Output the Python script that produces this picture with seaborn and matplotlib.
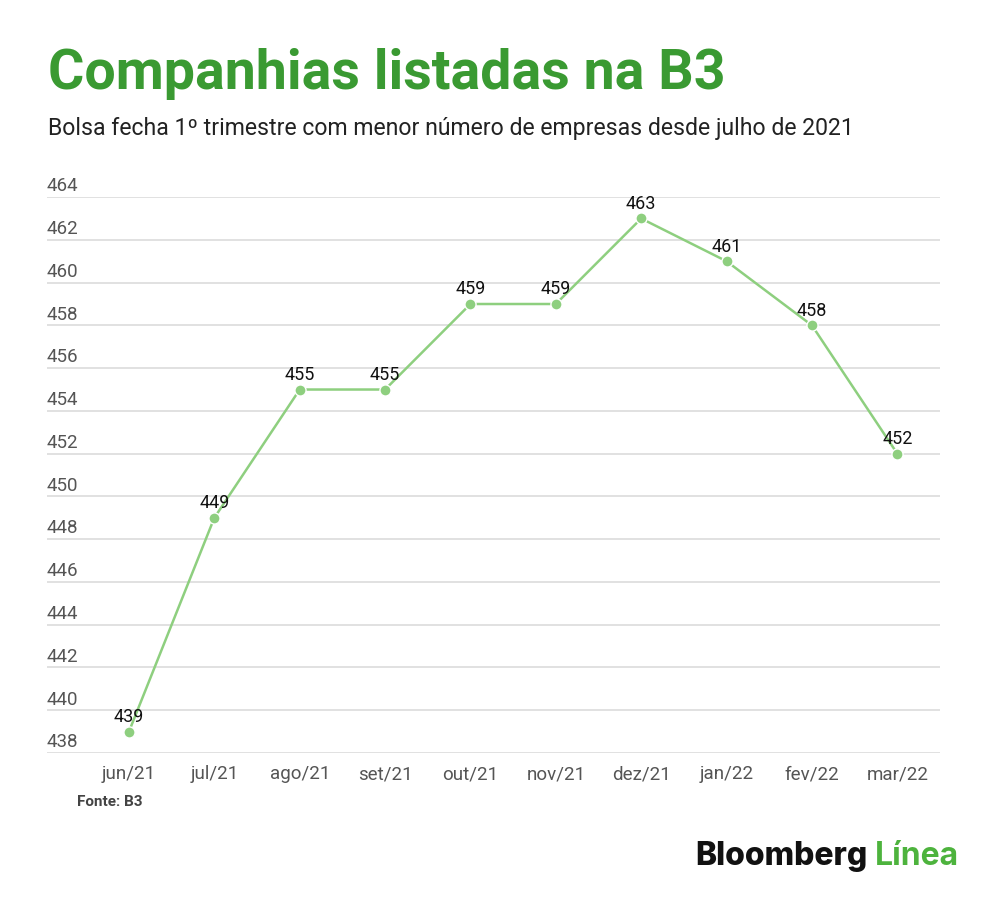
import matplotlib
matplotlib.use("Agg")
import matplotlib.pyplot as plt
import seaborn as sns
import pandas as pd

months = ["jun/21", "jul/21", "ago/21", "set/21", "out/21", "nov/21",
          "dez/21", "jan/22", "fev/22", "mar/22"]
companies = [439, 449, 455, 455, 459, 459, 463, 461, 458, 452]
y_ticks = [438, 440, 442, 444, 446, 448, 450, 452, 454, 456, 458, 460, 462, 464]

title = "Companhias listadas na B3"
subtitle = "Bolsa fecha 1º trimestre com menor número de empresas desde julho de 2021"
source = "Fonte: B3"

sns.set_theme(style="white")
plt.rcParams["font.family"] = ["Roboto", "DejaVu Sans"]

df = pd.DataFrame({"idx": range(len(months)), "month": months, "value": companies})

fig = plt.figure(figsize=(10, 8.98), dpi=100)
ax = fig.add_axes([0.047, 0.1615, 0.893, 0.619])

LINE = "#8ecf7f"
sns.lineplot(data=df, x="idx", y="value", ax=ax, color=LINE, linewidth=1.8,
             marker="o", markersize=8, markeredgewidth=1.0, markeredgecolor="white",
             markerfacecolor=LINE, clip_on=False, zorder=3)

ax.set_ylim(438, 464)
ax.set_xlim(-0.96, 9.5)
ax.set_yticks(y_ticks)
ax.yaxis.grid(True, color="#dcdcdc", linewidth=1.2)
ax.set_yticklabels([])
ax.tick_params(axis="y", length=0)
for t in y_ticks:
    ax.text(0.0, t + 0.08, str(t), transform=ax.get_yaxis_transform(),
            ha="left", va="bottom", fontsize=13.5, color="#555555")

ax.set_xticks(range(len(months)))
ax.set_xticklabels(months, fontsize=13.5, color="#555555")
ax.tick_params(axis="x", length=0, pad=9)
ax.set_xlabel("")
ax.set_ylabel("")
for s in ax.spines.values():
    s.set_visible(False)

for i, v in enumerate(companies):
    ax.annotate(str(v), (i, v), xytext=(0, 4), textcoords="offset points",
                ha="center", va="bottom", fontsize=13, color="#111111", zorder=4)

fig.text(0.048, 0.901, title, fontsize=40, fontweight="bold", color="#3a9a32",
         ha="left", va="baseline")
fig.text(0.048, 0.850, subtitle, fontsize=16.6, color="#222222",
         ha="left", va="baseline")
fig.text(0.077, 0.103, source, fontsize=11, fontweight="bold", color="#444444",
         ha="left", va="baseline")
fig.text(0.695, 0.037, "Bloomberg", fontsize=23, fontweight="heavy", color="#111111",
         ha="left", va="baseline", family=["Inter", "DejaVu Sans"])
fig.text(0.875, 0.037, "Línea", fontsize=23, fontweight="bold", color="#4db33d",
         ha="left", va="baseline", family=["Inter", "DejaVu Sans"])

fig.savefig("out.png", dpi=100, facecolor="white")
